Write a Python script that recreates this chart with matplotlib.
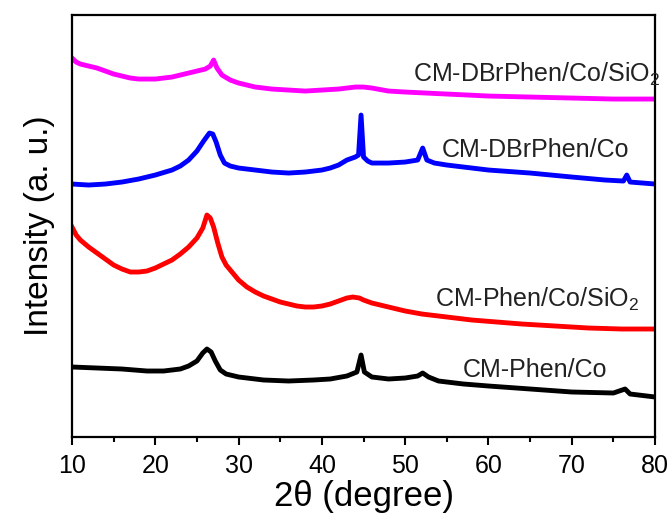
import matplotlib.pyplot as plt

plt.rcParams['font.family'] = ['Liberation Sans', 'DejaVu Sans']
plt.rcParams['mathtext.fontset'] = 'custom'
plt.rcParams['mathtext.rm'] = 'Liberation Sans'
plt.rcParams['mathtext.it'] = 'Liberation Sans:italic'

# XRD patterns, intensity in arbitrary (offset) units
two_theta_dbr_sio2 = [10, 10.5, 11, 12, 13, 14, 15, 16, 17, 18, 19, 20, 21, 22, 23, 24, 25, 26,
                      26.6, 27, 27.4, 28, 29, 30, 32, 34, 36, 38, 40, 42, 44, 45, 46, 48, 50,
                      55, 60, 65, 70, 75, 80]
int_dbr_sio2 = [379, 375, 373, 371, 369, 366, 363, 361, 359, 358, 358, 358, 359, 360, 362, 364, 366, 368,
                371, 377, 369, 362, 357, 354, 350, 348, 347, 346, 347, 348, 350, 350, 349, 346, 345,
                343, 341, 340, 339, 338, 338]

two_theta_dbr = [10, 12, 14, 16, 18, 20, 22, 23, 24, 25, 25.8, 26.5, 26.9, 27.3, 27.8, 28.3, 29, 30,
                 32, 34, 36, 38, 40, 41, 42, 43, 44, 44.4, 44.7, 45, 45.5, 46, 48, 50, 51.5,
                 52.1, 52.6, 53.5, 55, 60, 65, 70, 74, 76.2, 76.6, 77, 80]
int_dbr = [253, 252, 253, 255, 258, 262, 267, 271, 277, 286, 296, 304, 303, 295, 282, 274, 271, 269,
           267, 265, 264, 265, 267, 269, 272, 277, 280, 282, 322, 280, 276, 274, 274, 275, 277,
           289, 277, 274, 272, 267, 264, 260, 257, 256, 262, 255, 253]

two_theta_phen_sio2 = [10, 10.5, 11, 12, 13, 14, 15, 16, 17, 18, 19, 20, 21, 22, 23, 24, 25, 25.7,
                       26.2, 26.6, 27, 27.5, 28, 28.5, 29, 30, 31, 32, 33, 34, 35, 36, 37, 38,
                       39, 40, 41, 42, 43, 43.7, 44.5, 45, 46, 47, 48, 50, 52, 55, 58, 61, 64,
                       68, 72, 76, 80]
int_phen_sio2 = [210, 202, 197, 190, 184, 178, 172, 168, 165, 165, 166, 169, 173, 177, 183, 190, 199, 209,
                 222, 219, 210, 194, 180, 172, 167, 157, 150, 145, 141, 138, 135, 133, 131, 130,
                 130, 131, 133, 136, 139, 140, 139, 137, 134, 132, 130, 126, 123, 120, 117, 115, 113,
                 111, 109, 108, 108]

two_theta_phen = [10, 13, 16, 19, 21, 23, 24, 25, 25.7, 26.2, 26.7, 27.2, 27.8, 28.5, 30, 33, 36,
                  39, 41, 43, 44.2, 44.7, 45.1, 46, 48, 50, 51.5, 52.1, 52.8, 54, 57, 60, 65,
                  70, 75, 76.4, 77, 80]
int_phen = [70, 69, 68, 66, 66, 68, 71, 76, 84, 88, 85, 76, 67, 63, 60, 57, 56,
            57, 58, 61, 65, 82, 65, 60, 58, 59, 61, 64, 60, 56, 53, 51, 48,
            45, 44, 48, 43, 40]

fig = plt.figure(figsize=(6.71, 5.19), dpi=100)
ax = fig.add_axes([0.1073, 0.158, 0.8690, 0.813])

lw = 3.5
ax.plot(two_theta_dbr_sio2, int_dbr_sio2, color='#FF00FF', linewidth=lw)
ax.plot(two_theta_dbr, int_dbr, color='#0000FF', linewidth=lw)
ax.plot(two_theta_phen_sio2, int_phen_sio2, color='#FF0000', linewidth=lw)
ax.plot(two_theta_phen, int_phen, color='black', linewidth=lw)

# curve labels
ax.text(50.9, 355, 'CM-DBrPhen/Co/SiO$_2$', fontsize=18, ha='left', va='baseline', color='#222222')
ax.text(54.4, 280, 'CM-DBrPhen/Co', fontsize=18, ha='left', va='baseline', color='#222222')
ax.text(53.6, 130, 'CM-Phen/Co/SiO$_2$', fontsize=18, ha='left', va='baseline', color='#222222')
ax.text(56.9, 60, 'CM-Phen/Co', fontsize=18, ha='left', va='baseline', color='#222222')

ax.set_xlim(10, 80)
ax.set_ylim(0, 422)
ax.set_xticks(range(10, 81, 10))
ax.set_xticks(range(15, 80, 10), minor=True)
ax.set_yticks([])
ax.tick_params(axis='x', which='major', direction='out', length=6, width=1.5,
               labelsize=18, pad=6)
ax.tick_params(axis='x', which='minor', direction='out', length=3.5, width=1.5)

for sp in ax.spines.values():
    sp.set_linewidth(1.6)

ax.set_xlabel('2\u03b8 (degree)', fontsize=25, labelpad=2)
ax.set_ylabel('Intensity (a. u.)', fontsize=24, labelpad=12)

plt.savefig('out.png', dpi=100, facecolor='white')
